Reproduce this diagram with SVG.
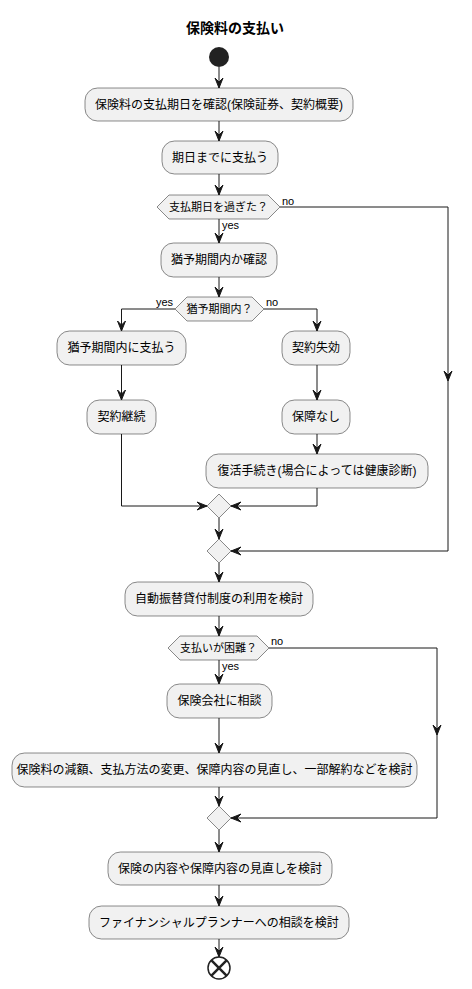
<svg xmlns="http://www.w3.org/2000/svg" width="472" height="989" viewBox="0 0 472 989">
<style>
text{font-family:"Liberation Sans","Noto Sans CJK JP",sans-serif;fill:#000}
.t{font-size:12px;text-anchor:middle}
.d{font-size:11px;text-anchor:middle}
.l{font-size:11px}
.title{font-size:14px;font-weight:bold;text-anchor:middle}
.box{fill:#F1F1F1;stroke:#181818;stroke-width:0.5}
.ln{fill:none;stroke:#181818;stroke-width:1}
.ah{fill:#181818;stroke:#181818;stroke-width:1}
</style>
<defs>
<path id="ad" class="ah" d="M-4,-10 L0,0 L4,-10 L0,-6 Z"/>
<path id="ar" class="ah" d="M-10,-4 L0,0 L-10,4 L-6,0 Z"/>
<path id="al" class="ah" d="M10,-4 L0,0 L10,4 L6,0 Z"/>
</defs>
<rect width="472" height="989" fill="#FFFFFF"/>
<text class="title" x="235" y="33">保険料の支払い</text>

<g id="connectors">
<path class="ln" d="M219,67 V88 M219,121 V141 M219,174 V195 M219,219 V243 M219,277 V297"/>
<path class="ln" d="M175,309 H121.5 V331 M264,309 H317 V331"/>
<path class="ln" d="M280,207 H448 V551 H231"/>
<path class="ln" d="M121.5,365 V400 M317,365 V400 M317,434 V454"/>
<path class="ln" d="M121.5,434 V506 H207 M317,488 V506 H231"/>
<path class="ln" d="M219,518 V539 M219,563 V582 M219,616 V636 M219,660 V684 M219,718 V753"/>
<path class="ln" d="M269,648 H437 V818 H231"/>
<path class="ln" d="M219,787 V806 M219,830 V852 M219,885 V906 M219,939 V957"/>
<use href="#ad" x="219" y="88"/>
<use href="#ad" x="219" y="141"/>
<use href="#ad" x="219" y="195"/>
<use href="#ad" x="219" y="243"/>
<use href="#ad" x="219" y="297"/>
<use href="#ad" x="121.5" y="331"/>
<use href="#ad" x="317" y="331"/>
<use href="#ad" x="121.5" y="400"/>
<use href="#ad" x="317" y="400"/>
<use href="#ad" x="317" y="454"/>
<use href="#ad" x="448" y="381"/>
<use href="#ar" x="207" y="506"/>
<use href="#al" x="231" y="506"/>
<use href="#al" x="231" y="551"/>
<use href="#ad" x="219" y="539"/>
<use href="#ad" x="219" y="582"/>
<use href="#ad" x="219" y="636"/>
<use href="#ad" x="219" y="684"/>
<use href="#ad" x="219" y="753"/>
<use href="#ad" x="437" y="735"/>
<use href="#al" x="231" y="818"/>
<use href="#ad" x="219" y="806"/>
<use href="#ad" x="219" y="852"/>
<use href="#ad" x="219" y="906"/>
<use href="#ad" x="219" y="957"/>
<text class="l" x="282" y="205">no</text>
<text class="l" x="222" y="229">yes</text>
<text class="l" x="173" y="306" text-anchor="end">yes</text>
<text class="l" x="266" y="306">no</text>
<text class="l" x="271" y="645">no</text>
<text class="l" x="222" y="670">yes</text>
</g>

<g id="start"><circle cx="219" cy="57" r="10" fill="#222222"/></g>

<g id="n1"><rect class="box" x="85" y="88" width="268" height="33" rx="12.5"/><text class="t" x="219" y="109">保険料の支払期日を確認(保険証券、契約概要)</text></g>
<g id="n2"><rect class="box" x="162" y="141" width="116" height="33" rx="12.5"/><text class="t" x="220" y="162">期日までに支払う</text></g>
<g id="d1"><polygon class="box" points="157,207 169,195 268,195 280,207 268,219 169,219"/><text class="d" x="218.5" y="211">支払期日を過ぎた？</text></g>
<g id="n3"><rect class="box" x="161" y="243" width="116" height="34" rx="12.5"/><text class="t" x="219" y="264">猶予期間内か確認</text></g>
<g id="d2"><polygon class="box" points="175,309 187,297 252,297 264,309 252,321 187,321"/><text class="d" x="219.5" y="313">猶予期間内？</text></g>
<g id="n4"><rect class="box" x="57" y="331" width="129" height="34" rx="12.5"/><text class="t" x="121.5" y="352">猶予期間内に支払う</text></g>
<g id="n5"><rect class="box" x="282" y="331" width="68" height="34" rx="12.5"/><text class="t" x="316" y="352">契約失効</text></g>
<g id="n6"><rect class="box" x="87" y="400" width="69" height="34" rx="12.5"/><text class="t" x="121.5" y="421">契約継続</text></g>
<g id="n7"><rect class="box" x="282" y="400" width="68" height="34" rx="12.5"/><text class="t" x="316" y="421">保障なし</text></g>
<g id="n8"><rect class="box" x="206" y="454" width="222" height="34" rx="12.5"/><text class="t" x="317" y="475">復活手続き(場合によっては健康診断)</text></g>
<g id="m1"><polygon class="box" points="207,506 219,494 231,506 219,518"/></g>
<g id="m2"><polygon class="box" points="207,551 219,539 231,551 219,563"/></g>
<g id="n9"><rect class="box" x="125" y="582" width="188" height="34" rx="12.5"/><text class="t" x="219" y="603">自動振替貸付制度の利用を検討</text></g>
<g id="d3"><polygon class="box" points="168,648 180,636 257,636 269,648 257,660 180,660"/><text class="d" x="218.5" y="652">支払いが困難？</text></g>
<g id="n10"><rect class="box" x="167" y="684" width="105" height="34" rx="12.5"/><text class="t" x="219.5" y="705">保険会社に相談</text></g>
<g id="n11"><rect class="box" x="12" y="753" width="405" height="34" rx="12.5"/><text class="t" x="214.5" y="774">保険料の減額、支払方法の変更、保障内容の見直し、一部解約などを検討</text></g>
<g id="m3"><polygon class="box" points="207,818 219,806 231,818 219,830"/></g>
<g id="n12"><rect class="box" x="108" y="852" width="224" height="33" rx="12.5"/><text class="t" x="220" y="873">保険の内容や保障内容の見直しを検討</text></g>
<g id="n13"><rect class="box" x="89" y="906" width="260" height="33" rx="12.5"/><text class="t" x="219" y="927">ファイナンシャルプランナーへの相談を検討</text></g>
<g id="end"><circle cx="219" cy="968" r="11" fill="#FFFFFF" stroke="#222222" stroke-width="1.5"/><path d="M211.2,960.2 L226.8,975.8 M226.8,960.2 L211.2,975.8" stroke="#222222" stroke-width="2.5"/></g>
</svg>
